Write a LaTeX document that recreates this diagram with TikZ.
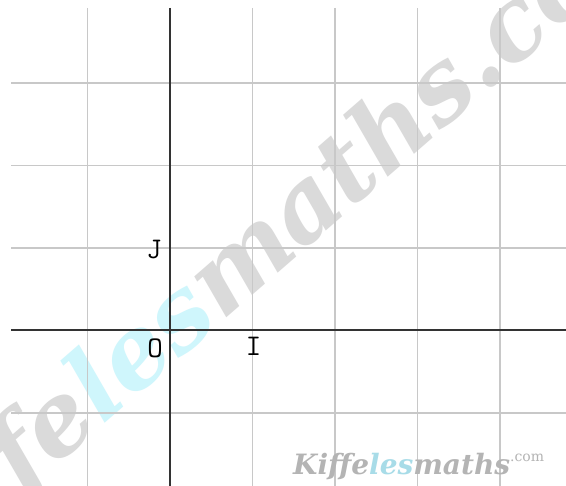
\documentclass[tikz,border=0pt]{standalone}
\usepackage{fontspec}
\newfontfamily\wmfont{DejaVu Serif}
\definecolor{gridgray}{HTML}{C8C8C8}
\definecolor{axisgray}{HTML}{333333}
\definecolor{wmgray}{HTML}{DADADA}
\definecolor{wmcyan}{HTML}{CFF6FC}
\definecolor{logogray}{HTML}{B4B4B4}
\definecolor{logocyan}{HTML}{A8DCE8}
\begin{document}
\begin{tikzpicture}[x=1pt,y=-1pt,
  gridline/.style={gridgray,line width=1.5pt},
  axisline/.style={axisgray,line width=2pt},
  lab/.style={font=\ttfamily\fontsize{30}{30}\selectfont,inner sep=0pt,text=black},
  water/.style={rotate=41,inner sep=0pt,text=wmgray,font=\wmfont\bfseries\itshape\fontsize{100}{100}\selectfont},
  logo/.style={inner sep=0pt,text=logogray,font=\wmfont\bfseries\itshape\fontsize{28}{28}\selectfont}]
\useasboundingbox (0,0) rectangle (566,486);
\fill[white] (0,0) rectangle (566,486);
% watermark
\begin{scope}
\clip (0,0) rectangle (566,486);
\coordinate (wmp) at (222,322);
\node[water,anchor=base east] (wm1) at (wmp) {Kiffe\textcolor{wmcyan}{les}};
\node[water,anchor=base west] (wm2) at (wmp) {maths.com};
\end{scope}
% grid
\foreach \x in {87.5,252.5,335,417.5,500}
  \draw[gridline] (\x,8) -- (\x,486);
\foreach \y in {83,165.5,248,413}
  \draw[gridline] (11,\y) -- (566,\y);
% axes
\coordinate (xl) at (11,330.5);
\coordinate (xr) at (566,330.5);
\coordinate (yt) at (170,8);
\coordinate (yb) at (170,486);
\draw[axisline] (xl) -- (xr);
\draw[axisline] (yt) -- (yb);
% labels
\node[lab] (J) at (154,250) {J};
\node[lab] (O) at (155,348) {O};
\node[lab] (I) at (253.5,346) {I};
% logo
\node[logo,anchor=base west] (logo) at (293,475) {Kiffe\textcolor{logocyan}{les}maths\raisebox{13pt}{\fontsize{14}{14}\mdseries\upshape .com}};
\end{tikzpicture}
\end{document}
